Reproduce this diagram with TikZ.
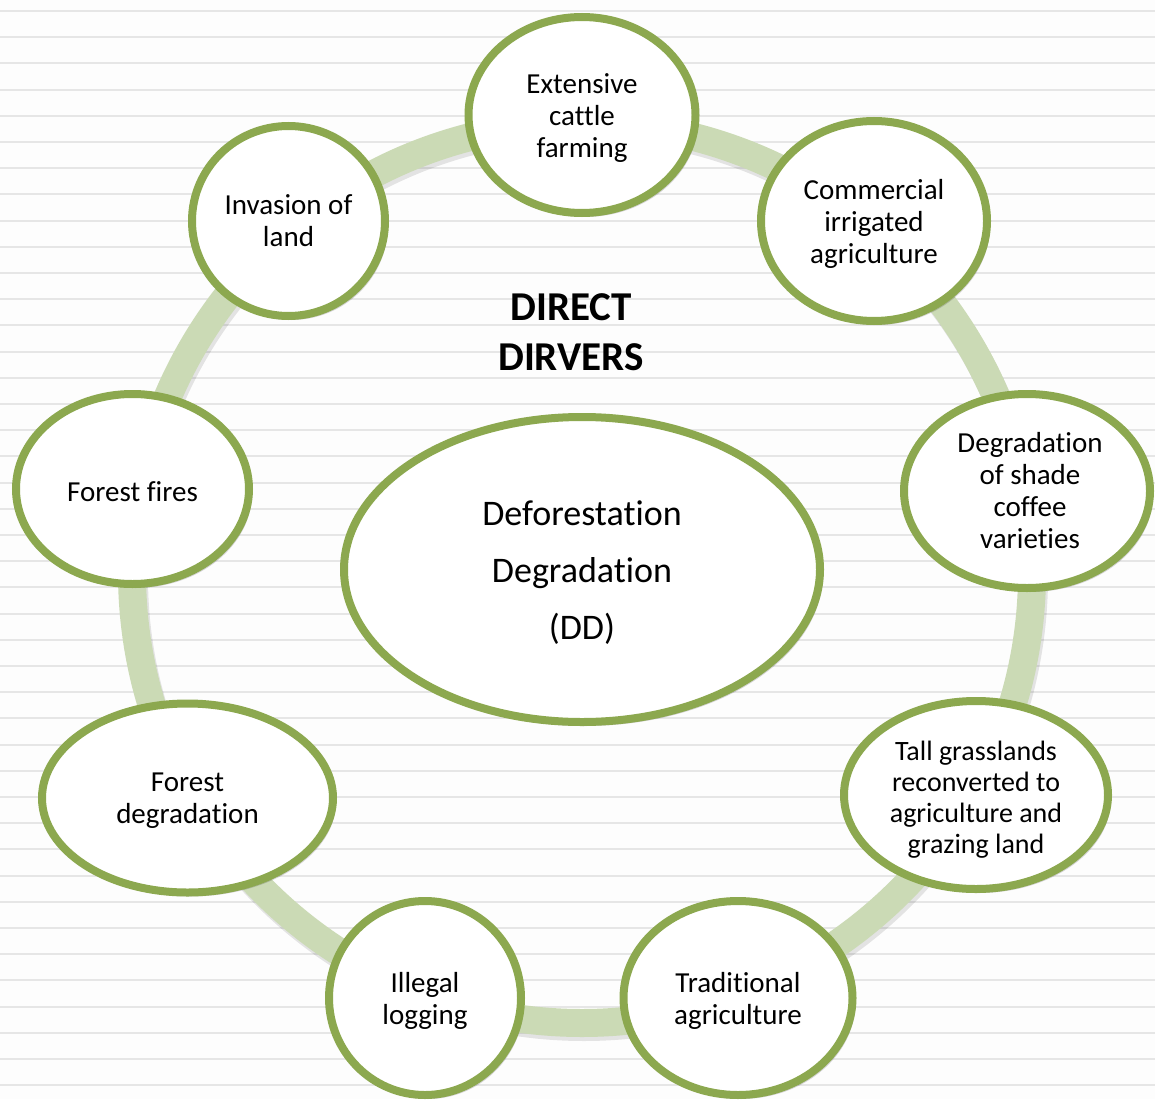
\documentclass[tikz,border=0pt]{standalone}
\usepackage{fontspec}
\setmainfont{Carlito}[RawFeature=-liga,RawFeature=-clig,RawFeature=-calt,RawFeature=-dlig,RawFeature=-rlig]
\usetikzlibrary{shapes.geometric,shadows}
\definecolor{olive}{HTML}{8CA84F}
\definecolor{ringgreen}{HTML}{CBDAB5}
\definecolor{ruleline}{HTML}{E6E6E6}
\definecolor{bgpaper}{HTML}{FDFDFD}
\tikzset{
  driver/.style={ellipse, draw=olive, line width=8pt, fill=white, inner sep=0pt,
    drop shadow={shadow xshift=3pt, shadow yshift=-4pt, opacity=0.16, fill=black}},
  dtext/.style={align=center, text=black, font=\fontsize{29}{32}\selectfont, yshift=-3pt},
  ctext/.style={dtext, font=\fontsize{36}{57}\selectfont},
  ringline/.style={draw=ringgreen, line width=28pt},
  ruling/.style={draw=ruleline, line width=2pt}
}
\begin{document}
\begin{tikzpicture}[x=1pt,y=-1pt]
\useasboundingbox (0,0) rectangle (1155,1099);
\fill[bgpaper] (0,0) rectangle (1155,1099);
\foreach \k in {0,...,41} {
  \draw[ruling] (0,{11+26.2*\k}) -- (1155,{11+26.2*\k});
}
\coordinate (ringc) at (582,573);
\coordinate (rings) at (584,577);
\draw[draw=black, opacity=0.10, line width=28pt] (rings) circle[radius=450];
\draw[ringline] (ringc) circle[radius=450];

\node[driver, minimum width=227pt, minimum height=196pt,
  label={[dtext]center:Extensive\\cattle\\farming}] (cattle) at (582,115) {};
\node[driver, minimum width=226pt, minimum height=200pt,
  label={[dtext]center:Commercial\\irrigated\\agriculture}] (commercial) at (874,221) {};
\node[driver, minimum width=193pt, minimum height=190pt,
  label={[dtext, yshift=3pt]center:Invasion of\\land}] (invasion) at (288.5,221) {};
\node[driver, minimum width=233pt, minimum height=190pt,
  label={[dtext]center:Forest fires}] (fires) at (132.5,489) {};
\node[driver, minimum width=246pt, minimum height=194pt,
  label={[dtext, xshift=3pt, yshift=3pt]center:Degradation\\of shade\\coffee\\varieties}] (coffee) at (1027,491) {};
\node[driver, minimum width=264pt, minimum height=188pt,
  label={[dtext, font=\fontsize{28}{31}\selectfont, yshift=-2pt]center:Tall grasslands\\reconverted to\\agriculture and\\grazing land}] (grass) at (976,795) {};
\node[driver, minimum width=229pt, minimum height=194pt,
  label={[dtext]center:Traditional\\agriculture}] (traditional) at (738,998) {};
\node[driver, minimum width=192pt, minimum height=194pt,
  label={[dtext]center:Illegal\\logging}] (logging) at (425,998) {};
\node[driver, minimum width=291pt, minimum height=189pt,
  label={[dtext]center:Forest\\degradation}] (degradation) at (187.5,798) {};
\node[driver, minimum width=476pt, minimum height=305pt,
  label={[ctext]center:Deforestation\\Degradation\\(DD)}] (dd) at (582,569.5) {};
\node[align=center, font=\bfseries\fontsize{41}{50}\selectfont] (title) at (571,332) {DIRECT\\DIRVERS};
\end{tikzpicture}
\end{document}
